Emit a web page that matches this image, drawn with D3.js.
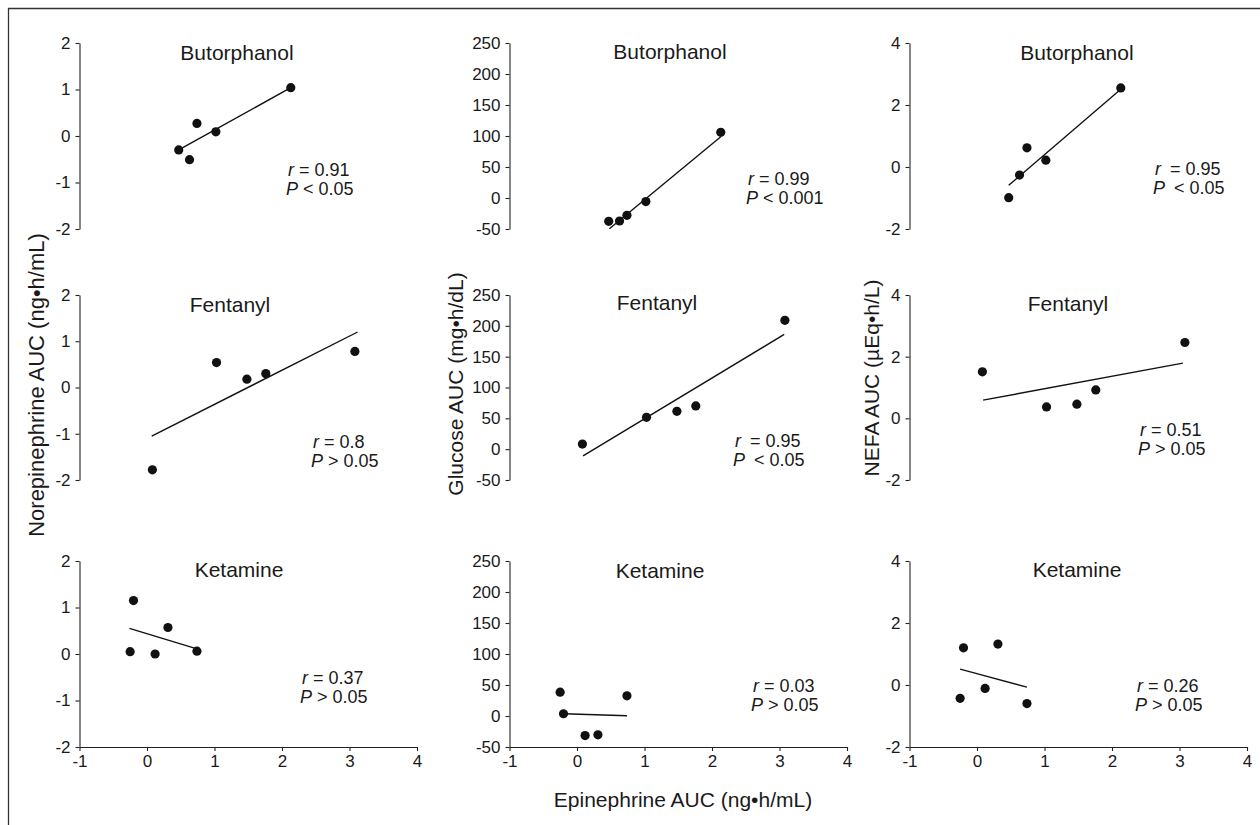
<!DOCTYPE html>
<html><head><meta charset="utf-8">
<script src="https://cdn.jsdelivr.net/npm/d3@7"></script>
<style>
html,body{margin:0;padding:0;background:#fff;}
svg{display:block;font-family:"Liberation Sans",Arial,Helvetica,sans-serif;}
.axis path,.axis line{stroke:#222;stroke-width:1.1;}
.axis text{fill:#1a1a1a;font-size:17px;font-family:"Liberation Sans",Arial,sans-serif;}
</style></head>
<body>
<svg id="chart" width="1260" height="825"></svg>
<script>
// ---------------- DATA ----------------
const drugs = ["Butorphanol", "Fentanyl", "Ketamine"];
const measures = ["Norepinephrine", "Glucose", "NEFA"];

// Epinephrine AUC (x values), one row per drug
const epiButorphanol = [0.47, 0.63, 0.74, 1.02, 2.13];
const epiFentanyl    = [0.08, 1.03, 1.48, 1.76, 3.08];
const epiKetamine    = [-0.25, -0.20, 0.12, 0.31, 0.74];

// Norepinephrine AUC (ng•h/mL)
const norepiButorphanol = [-0.30, -0.51, 0.27, 0.09, 1.04];
const norepiFentanyl    = [-1.78, 0.54, 0.18, 0.30, 0.78];
const norepiKetamine    = [0.05, 1.15, 0.00, 0.57, 0.06];

// Glucose AUC (mg•h/dL)
const glucoseButorphanol = [-37.6, -37.1, -27.9, -5.8, 106];
const glucoseFentanyl    = [8.2, 51.6, 61.4, 70.1, 209];
const glucoseKetamine    = [38.4, 3.6, -31.5, -30.4, 32.5];

// NEFA AUC (µEq•h/L)
const nefaButorphanol = [-0.99, -0.26, 0.62, 0.22, 2.55];
const nefaFentanyl    = [1.51, 0.37, 0.46, 0.92, 2.46];
const nefaKetamine    = [-0.43, 1.20, -0.11, 1.32, -0.60];

// Regression line end points [x0, y0, x1, y1]
const norepiFit  = [[0.47, -0.30, 2.13, 1.04], [0.07, -1.05, 3.12, 1.20], [-0.26, 0.55, 0.74, 0.11]];
const glucoseFit = [[0.48, -49.5, 2.13, 98.9], [0.09, -10.9, 3.07, 186], [-0.19, 3.6, 0.74, 0.4]];
const nefaFit    = [[0.47, -0.59, 2.13, 2.51], [0.09, 0.59, 3.05, 1.79], [-0.25, 0.51, 0.74, -0.07]];

// Statistics
const norepiR  = ["0.91", "0.8", "0.37"];
const norepiP  = ["< 0.05", "> 0.05", "> 0.05"];
const glucoseR = ["0.99", "0.95", "0.03"];
const glucoseP = ["< 0.001", "< 0.05", "> 0.05"];
const nefaR    = ["0.95", "0.51", "0.26"];
const nefaP    = ["< 0.05", "> 0.05", "> 0.05"];

// Axis ticks
const xTicks = [-1, 0, 1, 2, 3, 4];
const norepiTicks  = [-2, -1, 0, 1, 2];
const glucoseTicks = [-50, 0, 50, 100, 150, 200, 250];
const nefaTicks    = [-2, 0, 2, 4];

const yLabels = ["Norepinephrine AUC (ng\u2022h/mL)", "Glucose AUC (mg\u2022h/dL)", "NEFA AUC (\u00B5Eq\u2022h/L)"];
const xLabel = "Epinephrine AUC (ng\u2022h/mL)";

// ---------------- LAYOUT ----------------
const epiX = [epiButorphanol, epiFentanyl, epiKetamine];
const cols = [
  {y: [norepiButorphanol, norepiFentanyl, norepiKetamine], fit: norepiFit, r: norepiR, p: norepiP, ticks: norepiTicks, dom: [-2, 2]},
  {y: [glucoseButorphanol, glucoseFentanyl, glucoseKetamine], fit: glucoseFit, r: glucoseR, p: glucoseP, ticks: glucoseTicks, dom: [-50, 250]},
  {y: [nefaButorphanol, nefaFentanyl, nefaKetamine], fit: nefaFit, r: nefaR, p: nefaP, ticks: nefaTicks, dom: [-2, 4]}
];
const colLeft = [79.5, 509.5, 909.5];
const plotW = 337.5;
const rowTop = [43, 295, 561];
const rowBot = [229, 480, 747];
const titlePos = [[[237, 60], [670, 59], [1077, 60]],
                  [[230, 312], [657, 310], [1068, 311]],
                  [[239, 577], [660, 578], [1077, 577]]];
const statPos = [[[288, 176], [748, 185], [1155, 175]],
                 [[313, 448], [735, 447], [1140, 436]],
                 [[302, 684], [753, 692], [1137, 692]]];
const statWide = [[false, false, true], [false, true, false], [false, false, false]];

const fmt = d => String(d);

const svg = d3.select("#chart");
svg.append("rect").attr("width", 1260).attr("height", 825).attr("fill", "#fff");
// frame
svg.append("path").attr("d", "M8.5,840 V8.5 H1280").attr("fill", "none").attr("stroke", "#333").attr("stroke-width", 1.3);

drugs.forEach((drug, ri) => {
  cols.forEach((c, ci) => {
    const x = d3.scaleLinear().domain([-1, 4]).range([colLeft[ci], colLeft[ci] + plotW]);
    const y = d3.scaleLinear().domain(c.dom).range([rowBot[ri], rowTop[ri]]);
    const g = svg.append("g");

    g.append("g").attr("class", "axis")
      .attr("transform", `translate(${colLeft[ci]},0)`)
      .call(d3.axisLeft(y).tickValues(c.ticks).tickSize(4).tickPadding(5).tickSizeOuter(0).tickFormat(fmt));

    if (ri === 2) {
      g.append("g").attr("class", "axis")
        .attr("transform", `translate(0,${rowBot[ri]})`)
        .call(d3.axisBottom(x).tickValues(xTicks).tickSize(4).tickPadding(4).tickSizeOuter(0).tickFormat(fmt));
    }

    // title
    g.append("text").attr("x", titlePos[ri][ci][0]).attr("y", titlePos[ri][ci][1])
      .attr("text-anchor", "middle").attr("font-size", 21).attr("fill", "#1a1a1a").text(drug);

    // fit line
    const f = c.fit[ri];
    g.append("line").attr("x1", x(f[0])).attr("y1", y(f[1])).attr("x2", x(f[2])).attr("y2", y(f[3]))
      .attr("stroke", "#111").attr("stroke-width", 1.4);

    // points
    const pts = epiX[ri].map((v, i) => [v, c.y[ri][i]]);
    g.selectAll("circle.pt").data(pts).join("circle").attr("class", "pt")
      .attr("cx", d => x(d[0])).attr("cy", d => y(d[1])).attr("r", 4.6).attr("fill", "#111");

    // statistics text
    const sp = statPos[ri][ci];
    const gap = statWide[ri][ci] ? "\u2002" : " ";
    const t1 = g.append("text").attr("x", sp[0]).attr("y", sp[1]).attr("font-size", 18).attr("fill", "#1a1a1a");
    t1.append("tspan").attr("font-style", "italic").text("r");
    t1.append("tspan").text(gap + "= " + c.r[ri]);
    const t2 = g.append("text").attr("x", sp[0] - 2).attr("y", sp[1] + 19).attr("font-size", 18).attr("fill", "#1a1a1a");
    t2.append("tspan").attr("font-style", "italic").text("P");
    t2.append("tspan").text(gap + c.p[ri]);
  });
});

// axis labels
const yLabPos = [[36, 385], [456, 384], [872, 378]];
const yLabSize = [22, 21, 21];
yLabels.forEach((lab, i) => {
  svg.append("text").attr("transform", `translate(${yLabPos[i][0]},${yLabPos[i][1]}) rotate(-90)`)
    .attr("text-anchor", "middle").attr("dy", "0.35em").attr("font-size", yLabSize[i]).attr("fill", "#1a1a1a").text(lab);
});
svg.append("text").attr("x", 683).attr("y", 807).attr("text-anchor", "middle")
  .attr("font-size", 21).attr("fill", "#1a1a1a").text(xLabel);
</script>
</body></html>
